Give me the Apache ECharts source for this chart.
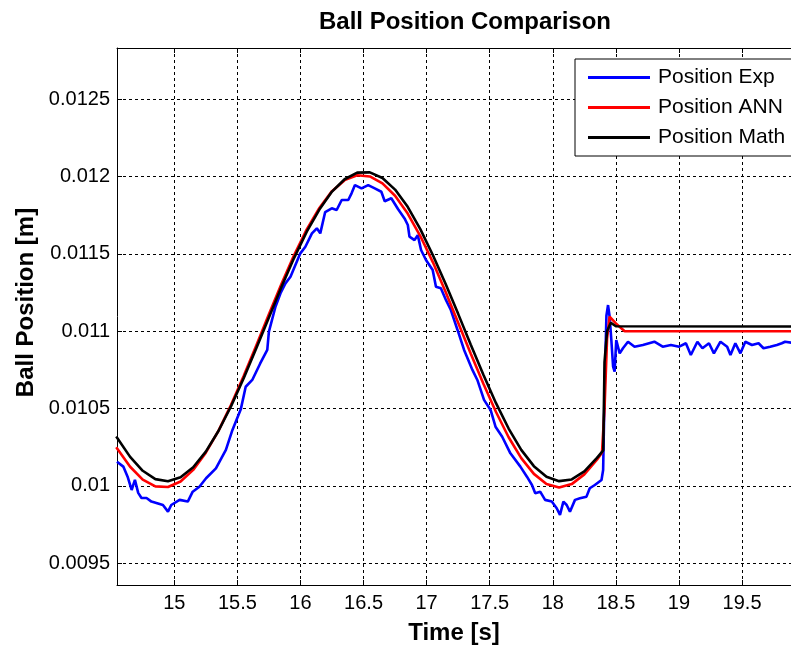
<!DOCTYPE html>
<html><head><meta charset="utf-8">
<script src="https://cdn.jsdelivr.net/npm/echarts@6/dist/echarts.min.js"></script>
<style>html,body{margin:0;padding:0;background:#fff}#c{width:791px;height:650px}</style>
</head><body><div id="c"></div>
<script>
const titleText = 'Ball Position Comparison';
const xName = 'Time [s]';
const yName = 'Ball Position [m]';
const seriesNames = ['Position Exp', 'Position ANN', 'Position Math'];
const xTicks = [15, 15.5, 16, 16.5, 17, 17.5, 18, 18.5, 19, 19.5];
const yTicks = [0.0095, 0.01, 0.0105, 0.011, 0.0115, 0.012, 0.0125];

const expTime = [14.546,14.596,14.630,14.662,14.688,14.714,14.740,14.780,14.819,14.858,14.910,14.950,14.976,15.042,15.107,15.146,15.199,15.252,15.330,15.409,15.461,15.527,15.566,15.618,15.680,15.737,15.750,15.802,15.842,15.881,15.921,15.960,15.999,16.039,16.091,16.130,16.157,16.196,16.248,16.287,16.327,16.379,16.405,16.432,16.484,16.537,16.589,16.641,16.668,16.720,16.773,16.825,16.851,16.864,16.904,16.930,16.956,16.995,17.048,17.074,17.113,17.153,17.192,17.245,17.297,17.363,17.402,17.455,17.507,17.546,17.599,17.664,17.743,17.795,17.835,17.861,17.900,17.939,17.992,18.031,18.057,18.084,18.110,18.136,18.176,18.215,18.267,18.293,18.333,18.386,18.399,18.410,18.425,18.438,18.451,18.464,18.478,18.490,18.503,18.530,18.556,18.596,18.648,18.714,18.805,18.871,18.936,19.002,19.055,19.094,19.146,19.186,19.238,19.277,19.329,19.382,19.408,19.447,19.487,19.526,19.579,19.631,19.670,19.723,19.776,19.815,19.841,19.900];
const expPos = [0.010157,0.010125,0.010060,0.009974,0.010039,0.009955,0.009922,0.009922,0.009899,0.009890,0.009877,0.009834,0.009877,0.009910,0.009899,0.009963,0.009995,0.010050,0.010114,0.010233,0.010362,0.010495,0.010641,0.010685,0.010790,0.010879,0.010997,0.011158,0.011245,0.011309,0.011352,0.011428,0.011503,0.011546,0.011632,0.011665,0.011632,0.011770,0.011794,0.011783,0.011848,0.011848,0.011891,0.011944,0.011923,0.011944,0.011923,0.011901,0.011840,0.011859,0.011790,0.011729,0.011686,0.011611,0.011589,0.011621,0.011525,0.011460,0.011395,0.011287,0.011277,0.011202,0.011137,0.011008,0.010879,0.010750,0.010685,0.010556,0.010491,0.010383,0.010318,0.010211,0.010125,0.010060,0.010006,0.009953,0.009963,0.009910,0.009899,0.009856,0.009813,0.009899,0.009877,0.009834,0.009910,0.009920,0.009931,0.009985,0.010006,0.010039,0.010103,0.010600,0.011100,0.011169,0.011090,0.010943,0.010771,0.010738,0.010943,0.010857,0.010890,0.010932,0.010900,0.010911,0.010932,0.010900,0.010911,0.010900,0.010922,0.010846,0.010932,0.010890,0.010922,0.010857,0.010932,0.010900,0.010846,0.010922,0.010857,0.010932,0.010911,0.010922,0.010890,0.010900,0.010911,0.010922,0.010932,0.010925];

const annTime = [14.54,14.65,14.75,14.85,14.95,15.05,15.15,15.25,15.35,15.45,15.55,15.65,15.75,15.85,15.95,16.05,16.15,16.25,16.35,16.45,16.55,16.65,16.75,16.85,16.95,17.05,17.15,17.25,17.35,17.45,17.55,17.65,17.75,17.85,17.95,18.05,18.15,18.25,18.35,18.39,18.41,18.43,18.45,18.50,18.57,19.90];
const annPos = [0.010250,0.010124,0.010041,0.009997,0.009993,0.010029,0.010104,0.010215,0.010356,0.010524,0.010710,0.010908,0.011110,0.011307,0.011492,0.011658,0.011796,0.011905,0.011976,0.012008,0.012000,0.011955,0.011875,0.011760,0.011615,0.011445,0.011255,0.011055,0.010855,0.010660,0.010478,0.010315,0.010180,0.010078,0.010013,0.009990,0.010012,0.010075,0.010170,0.010215,0.010500,0.010950,0.011094,0.011050,0.011000,0.011000];

const mathTime = [14.54,14.65,14.75,14.85,14.95,15.05,15.15,15.25,15.35,15.45,15.55,15.65,15.75,15.85,15.95,16.05,16.15,16.25,16.35,16.45,16.55,16.65,16.75,16.85,16.95,17.05,17.15,17.25,17.35,17.45,17.55,17.65,17.75,17.85,17.95,18.05,18.15,18.25,18.35,18.40,18.41,18.43,18.46,18.50,19.90];
const mathPos = [0.010320,0.010188,0.010098,0.010044,0.010030,0.010056,0.010121,0.010222,0.010355,0.010515,0.010696,0.010890,0.011089,0.011287,0.011474,0.011643,0.011786,0.011902,0.011982,0.012025,0.012026,0.011990,0.011915,0.011804,0.011660,0.011491,0.011306,0.011112,0.010913,0.010719,0.010535,0.010371,0.010233,0.010128,0.010059,0.010031,0.010042,0.010094,0.010181,0.010230,0.010800,0.011000,0.011055,0.011032,0.011030];

const zip = (a, b) => a.map((t, i) => [t, b[i]]);
const font = "'Liberation Sans', Arial, sans-serif";
const dash = {show: true, lineStyle: {color: '#000', width: 1, type: [3, 3]}};
const fmt = v => String(parseFloat(Number(v).toFixed(6)));

const chart = echarts.init(document.getElementById('c'), null, {renderer: 'canvas'});
chart.setOption({
  animation: false,
  backgroundColor: '#fff',
  textStyle: {fontFamily: font},
  title: {
    text: titleText, left: 460, top: 5, textAlign: 'center',
    textStyle: {fontFamily: font, fontSize: 24, fontWeight: 'bold', color: '#000'}
  },
  legend: {
    data: seriesNames, orient: 'vertical', left: 575, top: 59,
    padding: [8, 14, 8, 13], itemGap: 9, itemWidth: 62, itemHeight: 3, icon: 'rect',
    backgroundColor: '#fff', borderColor: '#000', borderWidth: 1, borderRadius: 0,
    textStyle: {fontFamily: font, fontSize: 21, color: '#000', lineHeight: 20, padding: [0, 0, 0, 3]}
  },
  grid: {left: 117, top: 48, width: 679, height: 539, containLabel: false},
  xAxis: [{
    type: 'value', min: 14.546, max: 19.888, position: 'bottom',
    axisLine: {show: true, onZero: false, lineStyle: {color: '#000', width: 1}},
    axisTick: {show: true, inside: true, length: 5, customValues: xTicks, lineStyle: {color: '#000'}},
    axisLabel: {show: true, customValues: xTicks, fontFamily: font, fontSize: 20, color: '#000', margin: 8, formatter: fmt},
    splitLine: dash,
    name: xName, nameLocation: 'middle', nameGap: 36,
    nameTextStyle: {fontFamily: font, fontSize: 24, fontWeight: 'bold', color: '#000'}
  }, {
    type: 'value', min: 14.546, max: 19.888, position: 'top',
    axisLine: {show: true, onZero: false, lineStyle: {color: '#000', width: 1}},
    axisTick: {show: true, inside: true, length: 5, customValues: xTicks, lineStyle: {color: '#000'}},
    axisLabel: {show: false},
    splitLine: {show: false}
  }],
  yAxis: [{
    type: 'value', min: 0.00936, max: 0.01283, position: 'left',
    axisLine: {show: true, onZero: false, lineStyle: {color: '#000', width: 1}},
    axisTick: {show: true, inside: true, length: 5, customValues: yTicks, lineStyle: {color: '#000'}},
    axisLabel: {show: true, customValues: yTicks, fontFamily: font, fontSize: 20, color: '#000', margin: 7, formatter: fmt},
    splitLine: dash,
    name: yName, nameLocation: 'middle', nameGap: 79, nameRotate: 90,
    nameTextStyle: {fontFamily: font, fontSize: 24, fontWeight: 'bold', color: '#000', padding: [0, 0, 0, 28]}
  }],
  series: [
    {name: seriesNames[0], type: 'line', data: zip(expTime, expPos), showSymbol: false, color: '#0000ff', lineStyle: {width: 2.6, color: '#0000ff'}, z: 2},
    {name: seriesNames[1], type: 'line', data: zip(annTime, annPos), showSymbol: false, color: '#ff0000', lineStyle: {width: 2.6, color: '#ff0000'}, z: 3},
    {name: seriesNames[2], type: 'line', data: zip(mathTime, mathPos), showSymbol: false, color: '#000000', lineStyle: {width: 2.6, color: '#000000'}, z: 4}
  ]
});
</script>
</body></html>
